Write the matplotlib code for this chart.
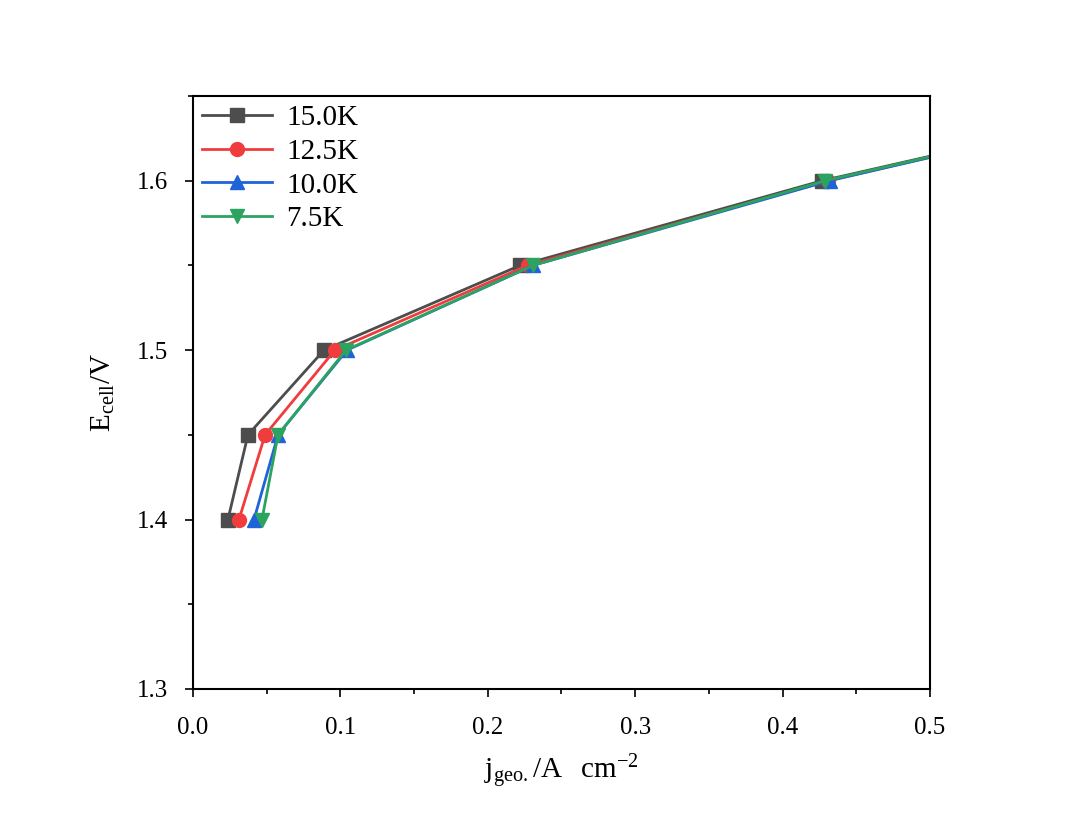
import matplotlib
matplotlib.use('Agg')
import matplotlib.pyplot as plt
from matplotlib.ticker import MultipleLocator

plt.rcParams['font.family'] = ['Liberation Serif', 'DejaVu Serif']

# potentials (V) and current densities (A cm^-2) per loading
e_cell = [1.40, 1.45, 1.50, 1.55, 1.60, 1.65]
j_150 = [0.0237, 0.0373, 0.0889, 0.222, 0.427, 0.68]
j_125 = [0.0312, 0.0489, 0.0963, 0.227, 0.431, 0.68]
j_100 = [0.0414, 0.0577, 0.1045, 0.2307, 0.432, 0.68]
j_75 = [0.0468, 0.0577, 0.1038, 0.2307, 0.429, 0.68]

labels = ['15.0K', '12.5K', '10.0K', '7.5K']
colors = ['#4d4d4d', '#f03c3c', '#1f63d8', '#2ca35f']
markers = ['s', 'o', '^', 'v']

fig = plt.figure(figsize=(10.8, 8.26), dpi=100)
ax = fig.add_axes([0.1787, 0.1659, 0.6823, 0.7179])

for j, lab, c, m in zip([j_150, j_125, j_100, j_75], labels, colors, markers):
    ax.plot(j, e_cell, color=c, marker=m, markersize=10, linewidth=2, label=lab)

ax.set_xlim(0, 0.5)
ax.set_ylim(1.3, 1.65)
ax.xaxis.set_minor_locator(MultipleLocator(0.05))
ax.yaxis.set_minor_locator(MultipleLocator(0.05))
ax.set_xticks([0.0, 0.1, 0.2, 0.3, 0.4, 0.5])
ax.set_xticklabels(['0.0', '0.1', '0.2', '0.3', '0.4', '0.5'])
ax.set_yticks([1.3, 1.4, 1.5, 1.6])
ax.set_yticklabels(['1.3', '1.4', '1.5', '1.6'])
ax.tick_params(axis='x', which='major', pad=14)
ax.tick_params(axis='y', which='major', pad=12)
ax.tick_params(which='major', direction='out', length=6, width=1.2, labelsize=18)
ax.tick_params(which='minor', direction='out', length=3.5, width=1.2)
for s in ax.spines.values():
    s.set_linewidth(1.5)

ax.set_xlabel(r'$\mathregular{j_{geo.}/A\ \ cm^{-2}}$', fontsize=21, labelpad=10)
ax.set_ylabel(r'$\mathregular{E_{cell}/V}$', fontsize=21, labelpad=14)

ax.legend(loc='upper left', frameon=False, fontsize=21, handlelength=2.4,
          borderaxespad=0.0, borderpad=0.3, labelspacing=0.25, handletextpad=0.5)

fig.savefig('out.png', dpi=100)
